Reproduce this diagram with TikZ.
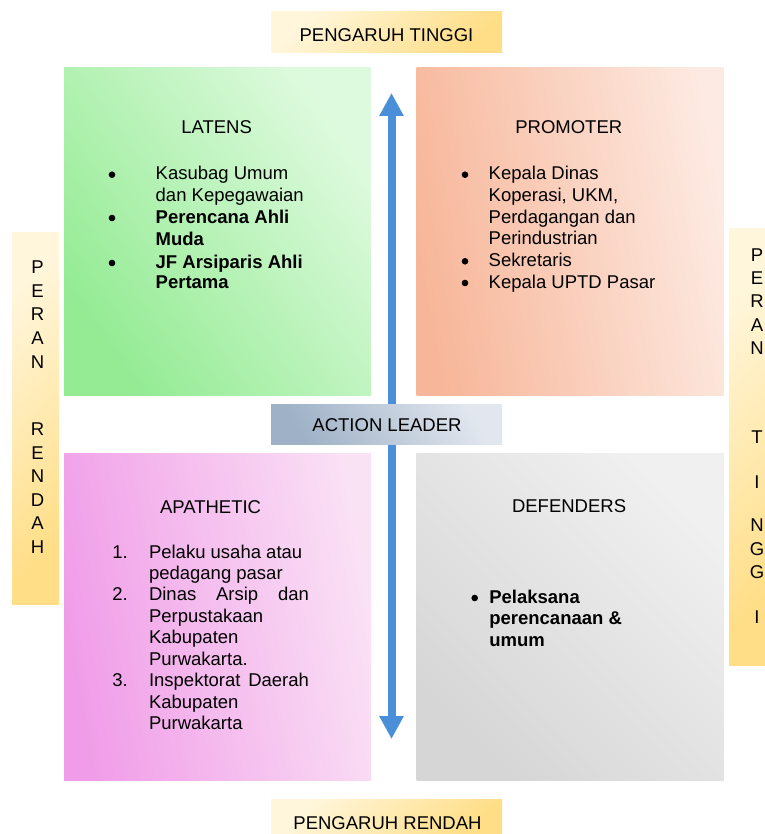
\documentclass[tikz,border=0pt]{standalone}
\usepackage{fontspec}
\setmainfont{Liberation Sans}
\usetikzlibrary{arrows.meta}
\definecolor{grnL}{RGB}{222,250,222}
\definecolor{grnD}{RGB}{148,235,148}
\definecolor{orgL}{RGB}{253,234,226}
\definecolor{orgD}{RGB}{247,182,153}
\definecolor{pnkL}{RGB}{250,226,245}
\definecolor{pnkD}{RGB}{240,156,232}
\definecolor{gryL}{RGB}{240,240,240}
\definecolor{gryD}{RGB}{214,214,214}
\definecolor{ylwL}{RGB}{255,246,220}
\definecolor{ylwD}{RGB}{255,222,135}
\definecolor{bluL}{RGB}{226,231,239}
\definecolor{bluD}{RGB}{158,177,198}
\definecolor{arrowblue}{RGB}{74,144,217}
\begin{document}
\begin{tikzpicture}[x=1pt,y=-1pt,
  box/.style={inner sep=0pt, outer sep=0pt, draw=none},
  quad/.style={box, minimum width=307pt, minimum height=327pt},
  ylw/.style={box, top color=ylwL, bottom color=ylwD, shading angle=45},
  txt/.style={inner sep=0pt, outer sep=0pt, font=\fontsize{18.5}{21.5}\selectfont, text=black},
  btxt/.style={txt, font=\fontsize{18.5}{21.5}\selectfont\bfseries},
  bul/.style={fill=black}]
\useasboundingbox (0,0) rectangle (764,834);

% quadrant boxes
\node[quad, top color=grnL, bottom color=grnD, shading angle=-55] (latens) at (217.5,231.5) {};
\node[quad, top color=orgL, bottom color=orgD, shading angle=-80] (promoter) at (570,231.5) {};
\node[quad, top color=pnkL, bottom color=pnkD, shading angle=-80] (apathetic) at (217.5,616.5) {};
\node[quad, top color=gryL, bottom color=gryD, shading angle=-45] (defenders) at (570,616.5) {};

% side / top / bottom boxes
\node[ylw, minimum width=231pt, minimum height=41pt] (ptop) at (386.5,32.5) {};
\node[ylw, minimum width=231pt, minimum height=40pt] (pbot) at (386.5,819) {};
\node[ylw, minimum width=47pt, minimum height=372pt] (pleft) at (35.5,418) {};
\node[ylw, minimum width=40pt, minimum height=437pt] (pright) at (749,446.5) {};

% vertical double arrow
\coordinate (atop) at (391.5,93);
\coordinate (abot) at (391.5,739);
\draw[arrowblue, line width=8pt, {Triangle[length=23pt,width=23pt]}-{Triangle[length=23pt,width=23pt]}] (atop) -- (abot);

% action leader
\node[box, minimum width=231pt, minimum height=40pt, top color=bluL, bottom color=bluD, shading angle=-60] (leader) at (386.5,424) {};

% labels on boxes
\node[txt, anchor=base] (ttop) at (386.5,41.6) {PENGARUH TINGGI};
\node[txt, anchor=base] (tbot) at (387.5,829) {PENGARUH RENDAH};
\node[txt, anchor=base] (tleader) at (387,431.6) {ACTION LEADER};

% left vertical letters
\foreach \l/\yy [count=\i] in {P/267,E/290.5,R/314,A/338,N/362,R/429,E/452.5,N/476,D/499.5,A/523,H/547}
  \node[txt, anchor=base] (L\i) at (37.5,\yy+6.6) {\l};
% right vertical letters
\foreach \l/\yy [count=\i] in {P/255,E/278,R/301,A/324.5,N/348,T/437,I/482,N/525,G/548.5,G/572,I/617}
  \node[txt, anchor=base] (R\i) at (757,\yy+6.6) {\l};

% LATENS
\node[txt, anchor=base west] (latT) at (181.3,134) {LATENS};
\fill[bul] (112,174.7) circle (3.3pt);
\node[txt, anchor=base west] (lat1) at (155.7,180) {Kasubag Umum};
\node[txt, anchor=base west] (lat2) at (155.7,201.5) {dan Kepegawaian};
\fill[bul] (112,218) circle (3.3pt);
\node[btxt, anchor=base west] (lat3) at (155.7,223.3) {Perencana Ahli};
\node[btxt, anchor=base west] (lat4) at (155.7,245) {Muda};
\fill[bul] (112,263) circle (3.3pt);
\node[btxt, anchor=base west] (lat5) at (155.7,268.3) {JF Arsiparis Ahli};
\node[btxt, anchor=base west] (lat6) at (155.7,288.3) {Pertama};

% PROMOTER
\node[txt, anchor=base west] (proT) at (515.3,134) {PROMOTER};
\fill[bul] (465,174.7) circle (3.3pt);
\node[txt, anchor=base west] (pro1) at (488.7,180) {Kepala Dinas};
\node[txt, anchor=base west] (pro2) at (488.7,201.5) {Koperasi, UKM,};
\node[txt, anchor=base west] (pro3) at (488.7,223.3) {Perdagangan dan};
\node[txt, anchor=base west] (pro4) at (488.7,244.8) {Perindustrian};
\fill[bul] (465,261.3) circle (3.3pt);
\node[txt, anchor=base west] (pro5) at (488.7,266.6) {Sekretaris};
\fill[bul] (465,283) circle (3.3pt);
\node[txt, anchor=base west] (pro6) at (488.7,288.3) {Kepala UPTD Pasar};

% APATHETIC
\node[txt, anchor=base west] (apaT) at (160,513.5) {APATHETIC};
\node[txt, anchor=base west] (n1) at (112.3,558) {1.};
\node[txt, anchor=base west] (apa1) at (149,558) {Pelaku usaha atau};
\node[txt, anchor=base west] (apa2) at (149,579.5) {pedagang pasar};
\node[txt, anchor=base west] (n2) at (112.3,600.9) {2.};
\node[txt, anchor=base west] (apa3) at (149,600.9) {\makebox[160pt][s]{Dinas\hfill Arsip\hfill dan}};
\node[txt, anchor=base west] (apa4) at (149,622.4) {Perpustakaan};
\node[txt, anchor=base west] (apa5) at (149,643.8) {Kabupaten};
\node[txt, anchor=base west] (apa6) at (149,665.3) {Purwakarta.};
\node[txt, anchor=base west] (n3) at (112.3,686.8) {3.};
\node[txt, anchor=base west] (apa7) at (149,686.8) {\makebox[160pt][s]{Inspektorat\hfill Daerah}};
\node[txt, anchor=base west] (apa8) at (149,708.2) {Kabupaten};
\node[txt, anchor=base west] (apa9) at (149,729.7) {Purwakarta};

% DEFENDERS
\node[txt, anchor=base west] (defT) at (512,512.6) {DEFENDERS};
\fill[bul] (474.7,598) circle (3.3pt);
\node[btxt, anchor=base west] (def1) at (489.3,603.3) {Pelaksana};
\node[btxt, anchor=base west] (def2) at (489.3,624.8) {perencanaan \&};
\node[btxt, anchor=base west] (def3) at (489.3,646.3) {umum};
\end{tikzpicture}
\end{document}
